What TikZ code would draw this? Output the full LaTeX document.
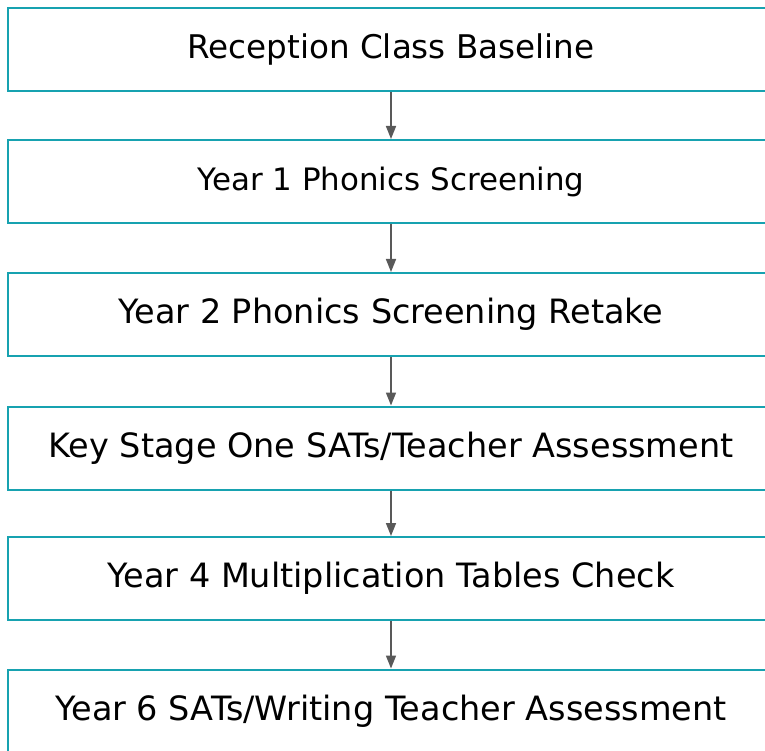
\documentclass[tikz,border=0pt]{standalone}
\usepackage{fontspec}
\setmainfont{DejaVu Sans}
\usetikzlibrary{arrows.meta}
\definecolor{tealb}{HTML}{17A2B0}
\definecolor{arrg}{HTML}{595959}
\begin{document}
\begin{tikzpicture}[x=1pt,y=-1pt,
  stage/.style={draw=tealb,line width=2pt,rectangle,minimum width=766pt,minimum height=83pt,inner sep=0pt,font=\fontsize{33.5}{38}\selectfont,text=black},
  arr/.style={draw=arrg,line width=1.6pt,-{Triangle[width=10pt,length=13pt]}}]
\useasboundingbox (0,0) rectangle (765,751);
\node[stage,font=\fontsize{32.6}{38}\selectfont] (b1) at (391,50) {Reception Class Baseline};
\node[stage,font=\fontsize{30.9}{36}\selectfont] (b2) at (391,181.5) {Year 1 Phonics Screening};
\node[stage] (b3) at (391,314.5) {Year 2 Phonics Screening Retake};
\node[stage] (b4) at (391,448) {Key Stage One SATs/Teacher Assessment};
\node[stage] (b5) at (391,578.5) {Year 4 Multiplication Tables Check};
\node[stage] (b6) at (391,711) {Year 6 SATs/Writing Teacher Assessment};
\draw[arr] (b1) -- (b2);
\draw[arr] (b2) -- (b3);
\draw[arr] (b3) -- (b4);
\draw[arr] (b4) -- (b5);
\draw[arr] (b5) -- (b6);
\end{tikzpicture}
\end{document}
